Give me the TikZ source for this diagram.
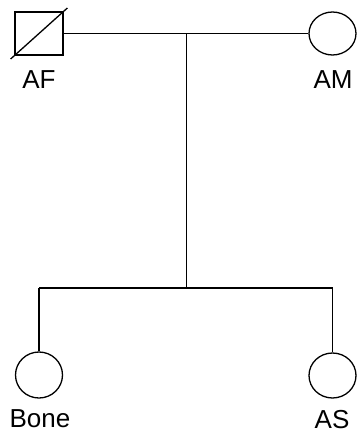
\documentclass[tikz,border=0pt]{standalone}
\usepackage{fontspec}
\setmainfont{Liberation Sans}
\usetikzlibrary{shapes.geometric}
\begin{document}
\begin{tikzpicture}[x=1pt,y=-1pt,
  line width=1.3pt,
  male/.style={draw,rectangle,inner sep=0pt,minimum width=48pt,minimum height=43pt},
  female/.style={draw,ellipse,inner sep=0pt,minimum width=47pt},
  lbl/.style={font=\fontsize{26}{26}\selectfont,inner sep=0pt}]
\useasboundingbox (0,0) rectangle (357,433);
\node[male] (AF) at (39,33.5) {};
\node[female,minimum height=43pt] (AM) at (332.5,33.5) {};
\node[female,minimum height=46pt] (Bone) at (39,375) {};
\node[female,minimum height=45pt] (AS) at (332.5,375.5) {};
\draw[shorten <=-5pt,shorten >=-5pt] (AF.south west) -- (AF.north east);
\node[lbl] (tAF) at (39,80) {AF};
\node[lbl] (tAM) at (333,80) {AM};
\node[lbl] (tBone) at (40,419) {Bone};
\node[lbl] (tAS) at (332,419.5) {AS};
\coordinate (mate) at (186.5,33.5);
\coordinate (sib) at (186.5,288);
\coordinate (sibL) at (Bone.north |- sib);
\coordinate (sibR) at (AS.north |- sib);
\draw (AF.east) -- (AM.west);
\draw (mate) -- (sib);
\draw (sibL) -- (sibR);
\draw (sibL) -- (Bone.north);
\draw (sibR) -- (AS.north);
\end{tikzpicture}
\end{document}
